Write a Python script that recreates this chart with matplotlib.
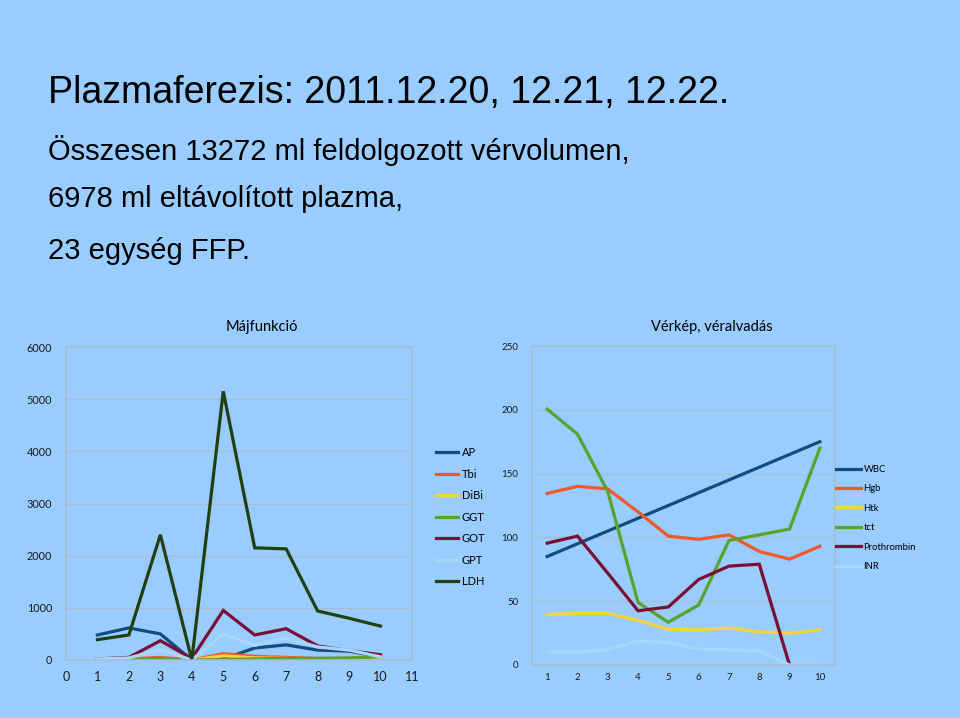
import matplotlib
matplotlib.use('Agg')
import matplotlib.pyplot as plt
import numpy as np

# Májfunkció (samples 1..10)
samples = [1, 2, 3, 4, 5, 6, 7, 8, 9, 10]
ap = [480, 615, 500, 0, 20, 230, 290, 190, 170, 60]
tbi = [10, 20, 50, 0, 120, 70, 50, 30, 30, 30]
dibi = [5, 10, 20, 0, 80, 40, 30, 20, 20, 20]
ggt = [0, 10, 30, 0, 10, 20, 30, 30, 40, 60]
got = [20, 50, 370, 30, 950, 480, 600, 270, 180, 100]
gpt = [20, 40, 200, 0, 500, 280, 420, 250, 190, 60]
ldh = [390, 480, 2400, 0, 5150, 2150, 2130, 940, 800, 650]

# Vérkép, véralvadás
wbc = [85, 95, 105, 115, 125, 135, 145, 155, 165, 175]
hgb = [134.5, 140, 138, 120, 101, 98.5, 102, 89, 83, 93]
htk = [39.5, 40.5, 40.5, 35, 28, 27.5, 29, 26, 25, 27.5]
tct = [200.5, 181, 136, 49, 33.5, 47, 97.5, 102, 106.5, 170]
prothrombin = [95.5, 101, 72, 42.5, 45.5, 67, 77.5, 79, 0, np.nan]
inr = [10, 10, 12, 19, 17.5, 12.5, 12, 11, 0, 0]

BG = '#99ccff'
GRID = '#a9bdd1'
C_BLUE = '#124a82'
C_ORANGE = '#f0582a'
C_YELLOW = '#f8d43c'
C_GREEN = '#5aa22c'
C_RED = '#7a0f33'
C_LIGHT = '#a9d5f8'
C_DKGREEN = '#22400f'

fig = plt.figure(figsize=(9.6, 7.18), dpi=100, facecolor=BG)

title_font = ['Liberation Sans', 'DejaVu Sans']
fig.text(48 / 960, 1 - 93 / 718, 'Plazmaferezis: 2011.12.20, 12.21, 12.22.',
         fontsize=27, family=title_font, va='center', ha='left')
fig.text(48 / 960, 1 - 150 / 718, 'Összesen 13272 ml feldolgozott vérvolumen,',
         fontsize=21, family=title_font, va='center', ha='left')
fig.text(48 / 960, 1 - 199 / 718, '6978 ml eltávolított plazma,',
         fontsize=21, family=title_font, va='center', ha='left')
fig.text(48 / 960, 1 - 251 / 718, '23 egység FFP.',
         fontsize=21, family=title_font, va='center', ha='left')

small_font = ['Lato', 'DejaVu Sans']
lw = 2.3


def style_axes(ax):
    ax.set_facecolor(BG)
    for s in ax.spines.values():
        s.set_color(GRID)
        s.set_linewidth(1.2)
    ax.grid(True, axis='y', color=GRID, linewidth=1)
    ax.set_axisbelow(True)
    ax.tick_params(length=0, colors='#1a1a1a')
    for lab in ax.get_xticklabels() + ax.get_yticklabels():
        lab.set_family(small_font)


# left chart
ax1 = fig.add_axes([66 / 960, 1 - 660 / 718, 346 / 960, 313 / 718])
for vals, col, name in [(ap, C_BLUE, 'AP'), (tbi, C_ORANGE, 'Tbi'),
                        (dibi, C_YELLOW, 'DiBi'), (ggt, C_GREEN, 'GGT'),
                        (got, C_RED, 'GOT'), (gpt, C_LIGHT, 'GPT'),
                        (ldh, C_DKGREEN, 'LDH')]:
    ax1.plot(samples, vals, color=col, linewidth=lw, label=name,
             solid_joinstyle='miter')
ax1.set_xlim(0, 11)
ax1.set_ylim(0, 6000)
ax1.set_xticks(range(0, 12))
ax1.set_yticks(range(0, 6001, 1000))
style_axes(ax1)
ax1.tick_params(axis='x', labelsize=9, pad=8)
ax1.tick_params(axis='y', labelsize=7.8, pad=10)
fig.text(262 / 960, 1 - 327 / 718, 'Májfunkció', fontsize=10.5,
         family=small_font, ha='center', va='center')
ax1.legend(loc='upper left', bbox_to_anchor=(436 / 960, 1 - 447 / 718),
           bbox_transform=fig.transFigure, frameon=False,
           handlelength=2.0, handletextpad=0.3, labelspacing=0.95,
           borderpad=0, borderaxespad=0, prop={'family': small_font, 'size': 8})

# right chart
ax2 = fig.add_axes([532 / 960, 1 - 665 / 718, 303 / 960, 319 / 718])
for vals, col, name in [(wbc, C_BLUE, 'WBC'), (hgb, C_ORANGE, 'Hgb'),
                        (htk, C_YELLOW, 'Htk'), (tct, C_GREEN, 'tct'),
                        (prothrombin, C_RED, 'Prothrombin'), (inr, C_LIGHT, 'INR')]:
    ax2.plot(samples, vals, color=col, linewidth=lw, label=name,
             solid_joinstyle='miter')
ax2.set_xlim(0.5, 10.5)
ax2.set_ylim(0, 250)
ax2.set_xticks(samples)
ax2.set_yticks(range(0, 251, 50))
style_axes(ax2)
ax2.tick_params(axis='x', labelsize=7, pad=6)
ax2.tick_params(axis='y', labelsize=7, pad=10)
fig.text(712 / 960, 1 - 327 / 718, 'Vérkép, véralvadás', fontsize=10.5,
         family=small_font, ha='center', va='center')
ax2.legend(loc='upper left', bbox_to_anchor=(836 / 960, 1 - 465 / 718),
           bbox_transform=fig.transFigure, frameon=False,
           handlelength=2.6, handletextpad=0.3, labelspacing=1.1,
           borderpad=0, borderaxespad=0, prop={'family': small_font, 'size': 6.8})

fig.savefig('out.png', dpi=100, facecolor=BG)
